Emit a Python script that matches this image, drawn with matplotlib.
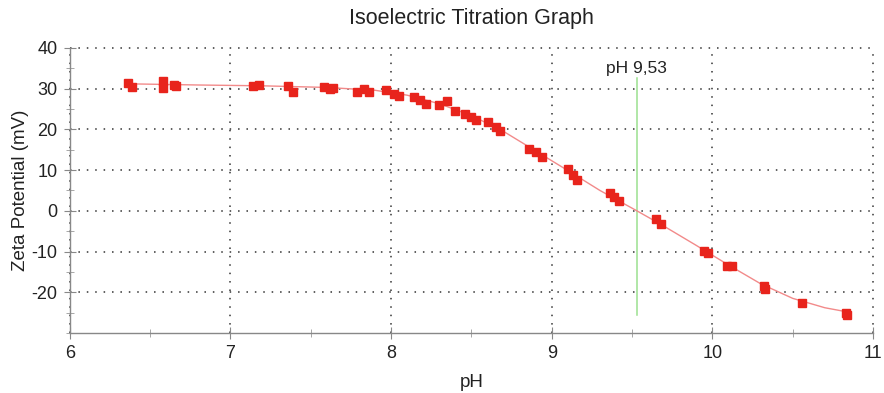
import matplotlib.pyplot as plt
from matplotlib.ticker import MultipleLocator

plt.rcParams['font.family'] = ['Liberation Sans', 'DejaVu Sans']
plt.rcParams['axes.unicode_minus'] = False

# measured points (pH, zeta potential mV)
ph = [6.36, 6.39, 6.58, 6.58, 6.65, 6.66, 7.14, 7.18, 7.36, 7.39,
      7.58, 7.62, 7.64, 7.79, 7.83, 7.86, 7.97, 8.02, 8.05, 8.14,
      8.18, 8.22, 8.30, 8.35, 8.40, 8.46, 8.50, 8.53, 8.60, 8.65,
      8.68, 8.86, 8.90, 8.94, 9.10, 9.13, 9.16, 9.36, 9.39, 9.42,
      9.65, 9.68, 9.95, 9.97, 10.09, 10.12, 10.32, 10.33, 10.56, 10.83,
      10.84]
zeta = [31.3, 30.4, 32.0, 30.2, 30.9, 30.6, 30.7, 30.9, 30.6, 29.2,
        30.3, 29.8, 30.2, 29.3, 29.8, 29.1, 29.6, 28.6, 28.2, 27.9,
        27.2, 26.2, 26.0, 27.0, 24.5, 23.9, 23.0, 22.4, 21.9, 20.6,
        19.6, 15.3, 14.4, 13.2, 10.2, 8.8, 7.6, 4.4, 3.3, 2.4,
        -2.0, -3.2, -9.9, -10.4, -13.6, -13.6, -18.5, -19.2, -22.6, -25.0,
        -25.5]

# fitted curve
fit_ph = [6.35, 6.8, 7.2, 7.6, 7.9, 8.1, 8.3, 8.5, 8.7, 8.9,
          9.1, 9.3, 9.53, 9.7, 9.9, 10.1, 10.3, 10.5, 10.7, 10.85]
fit_zeta = [31.2, 30.9, 30.7, 30.3, 29.6, 28.4, 26.3, 23.4, 19.5, 14.7,
            9.9, 5.0, 0.0, -3.8, -8.5, -13.3, -17.9, -21.5, -23.8, -24.9]

iep = 9.53
iep_label = "pH 9,53"

fig = plt.figure(figsize=(8.84, 3.93), dpi=100)
ax = fig.add_axes([0.079, 0.1527, 0.9086, 0.7253])

ax.plot(fit_ph, fit_zeta, color="#f28a8a", lw=1.0, zorder=2)
ax.plot(ph, zeta, "s", color="#e8241c", ms=6.0, mec="#e8241c", zorder=3)

ax.plot([iep, iep], [-25.5, 32.5], color="#9be08f", lw=1.1, zorder=1)
ax.text(iep, 33.0, iep_label, ha="center", va="bottom", fontsize=12.5, color="#222222")

ax.set_xlim(6, 11)
ax.set_ylim(-30, 40)
ax.xaxis.set_major_locator(MultipleLocator(1))
ax.xaxis.set_minor_locator(MultipleLocator(0.5))
ax.yaxis.set_minor_locator(MultipleLocator(5))
ax.set_yticks([-20, -10, 0, 10, 20, 30, 40])

ax.grid(True, which="major", color="#333333", linestyle=(0, (1, 4.5)), lw=1.1)
for gl in ax.get_xgridlines() + ax.get_ygridlines():
    gl.set_clip_on(False)

for s in ["top", "right"]:
    ax.spines[s].set_visible(False)
for s in ["left", "bottom"]:
    ax.spines[s].set_color("#888888")
    ax.spines[s].set_linewidth(1.0)

ax.tick_params(which="major", direction="inout", length=8, color="#888888",
               labelsize=13, labelcolor="#222222", pad=5)
ax.tick_params(which="minor", direction="inout", length=6, color="#999999")

ax.set_title("Isoelectric Titration Graph", fontsize=15.5, color="#222222", pad=17)
ax.set_xlabel("pH", fontsize=13.5, color="#222222", labelpad=8)
ax.set_ylabel("Zeta Potential (mV)", fontsize=13.5, color="#222222", labelpad=2)

fig.savefig("out.png", dpi=100)
